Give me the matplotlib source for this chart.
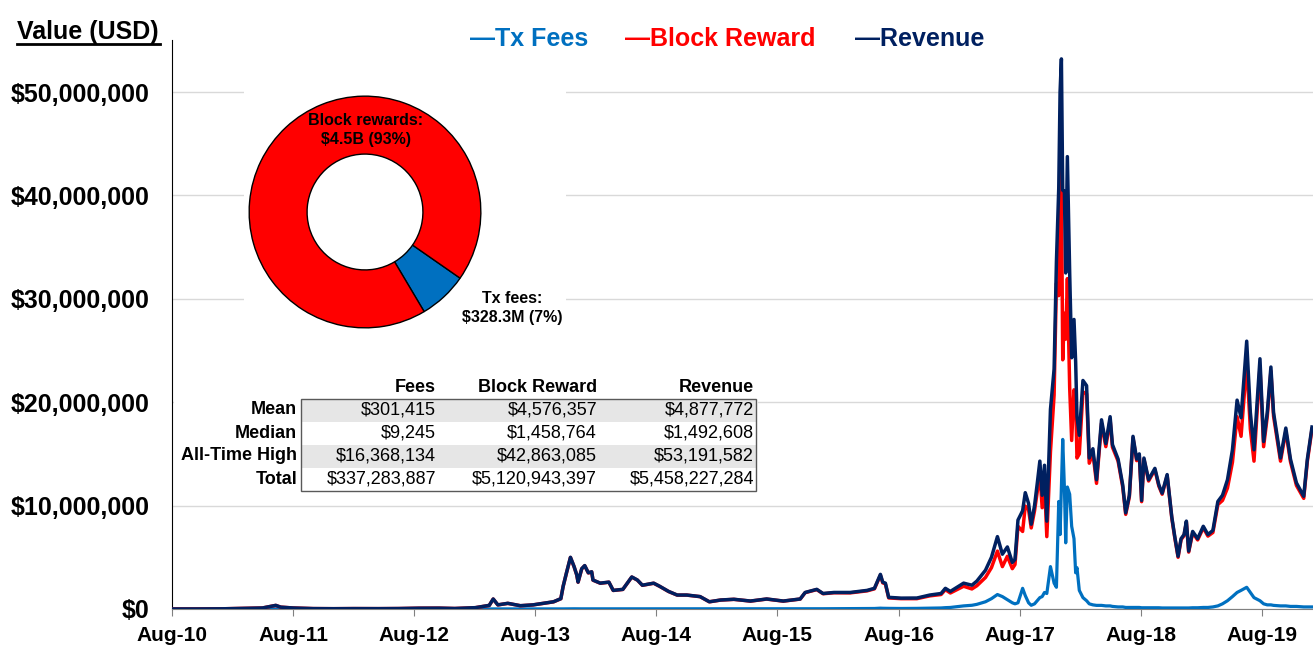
import numpy as np
import pandas as pd
import matplotlib
matplotlib.use('Agg')
import matplotlib.pyplot as plt
import matplotlib.dates as mdates
from matplotlib.ticker import FuncFormatter, MultipleLocator
from matplotlib.patches import Rectangle
from matplotlib.lines import Line2D

plt.rcParams['font.family'] = ['Liberation Sans', 'DejaVu Sans']

# Daily miner revenue (values in millions of USD)
dates = [
    '2010-08-01', '2010-10-15', '2011-01-01', '2011-03-01', '2011-05-01', '2011-06-10', '2011-06-25',
    '2011-08-01', '2011-10-01', '2011-12-01', '2012-02-01', '2012-04-15', '2012-06-15', '2012-08-15',
    '2012-10-15', '2012-12-01', '2013-02-01', '2013-03-15', '2013-03-27', '2013-04-10', '2013-05-10',
    '2013-06-17', '2013-07-25', '2013-08-26', '2013-09-25', '2013-10-17', '2013-10-24', '2013-11-03',
    '2013-11-15', '2013-11-26', '2013-12-04', '2013-12-08', '2013-12-19', '2013-12-28', '2014-01-08',
    '2014-01-18', '2014-01-22', '2014-02-13', '2014-03-11', '2014-03-24', '2014-04-22', '2014-05-19',
    '2014-06-05', '2014-06-20', '2014-07-24', '2014-08-11', '2014-09-07', '2014-10-03', '2014-11-01',
    '2014-12-11', '2015-01-08', '2015-02-11', '2015-03-23', '2015-05-12', '2015-06-30', '2015-08-19',
    '2015-10-09', '2015-10-24', '2015-11-28', '2015-12-17', '2016-01-19', '2016-03-08', '2016-04-28',
    '2016-05-20', '2016-06-07', '2016-06-14', '2016-06-22', '2016-07-02', '2016-08-08', '2016-09-25',
    '2016-11-03', '2016-12-07', '2016-12-20', '2017-01-04', '2017-02-13', '2017-03-10', '2017-03-25',
    '2017-04-20', '2017-05-08', '2017-05-26', '2017-06-10', '2017-06-25', '2017-07-10', '2017-07-18',
    '2017-07-27', '2017-08-10', '2017-08-18', '2017-08-28', '2017-09-05', '2017-09-15', '2017-09-23',
    '2017-10-01', '2017-10-08', '2017-10-15', '2017-10-22', '2017-11-02', '2017-11-13', '2017-11-20',
    '2017-11-27', '2017-12-01', '2017-12-05', '2017-12-09', '2017-12-14', '2017-12-18', '2017-12-23',
    '2017-12-30', '2018-01-05', '2018-01-12', '2018-01-17', '2018-01-21', '2018-01-28', '2018-02-08',
    '2018-02-19', '2018-02-27', '2018-03-10', '2018-03-21', '2018-04-05', '2018-04-18', '2018-05-01',
    '2018-05-08', '2018-05-25', '2018-06-08', '2018-06-17', '2018-06-28', '2018-07-09', '2018-07-20',
    '2018-07-28', '2018-08-04', '2018-08-11', '2018-08-25', '2018-09-13', '2018-09-25', '2018-10-05',
    '2018-10-20', '2018-11-03', '2018-11-12', '2018-11-22', '2018-12-01', '2018-12-10', '2018-12-17',
    '2018-12-24', '2019-01-05', '2019-01-20', '2019-02-06', '2019-02-20', '2019-03-07', '2019-03-22',
    '2019-04-05', '2019-04-20', '2019-05-05', '2019-05-19', '2019-05-31', '2019-06-17', '2019-06-28',
    '2019-07-09', '2019-07-27', '2019-08-07', '2019-08-18', '2019-08-29', '2019-09-06', '2019-09-27',
    '2019-10-13', '2019-10-27', '2019-11-14', '2019-12-06', '2019-12-17', '2019-12-31',
]

revenue = [
    0.002, 0.004, 0.02, 0.06, 0.10, 0.35, 0.18,
    0.10, 0.04, 0.03, 0.04, 0.035, 0.045, 0.08,
    0.085, 0.05, 0.13, 0.35, 0.97, 0.40, 0.55,
    0.32, 0.40, 0.55, 0.70, 1.0, 2.2, 3.5,
    5.0, 4.1, 3.3, 2.6, 3.9, 4.2, 3.5,
    3.6, 2.8, 2.5, 2.6, 1.8, 1.9, 3.1,
    2.8, 2.3, 2.5, 2.2, 1.7, 1.35, 1.35,
    1.2, 0.7, 0.87, 0.94, 0.77, 0.97, 0.77,
    0.97, 1.6, 1.9, 1.5, 1.6, 1.6, 1.8,
    2.0, 3.35, 2.6, 2.5, 1.13, 1.05, 1.06,
    1.35, 1.5, 2.0, 1.7, 2.5, 2.3, 2.7,
    3.75, 5.0, 7.0, 5.3, 6.0, 4.5, 4.8,
    8.6, 9.5, 11.25, 10.2, 8.2, 10.0, 12.1,
    14.3, 11.0, 13.9, 8.5, 19.3, 23.2, 33.6,
    40.7, 50.0, 53.2, 40.5, 40.4, 32.5, 43.75,
    32.5, 24.3, 28.0, 23.9, 18.6, 16.8, 22.1,
    21.6, 14.6, 15.5, 12.5, 18.3, 16.0, 18.6,
    15.9, 14.5, 12.0, 9.3, 11.0, 16.7, 14.5,
    15.0, 10.5, 14.6, 12.5, 13.6, 12.0, 11.2,
    13.0, 8.9, 7.0, 5.1, 6.8, 7.2, 8.5,
    5.6, 7.5, 6.8, 8.0, 7.2, 7.6, 10.4,
    11.0, 12.5, 15.4, 20.2, 18.5, 25.9, 19.0,
    15.4, 24.2, 16.2, 19.0, 23.4, 19.0, 14.6,
    17.5, 14.5, 12.2, 10.9, 14.5, 17.6,
]

tx_fees = [
    0.0, 0.0, 0.0, 0.0, 0.001, 0.002, 0.002,
    0.001, 0.001, 0.001, 0.001, 0.001, 0.002, 0.003,
    0.003, 0.003, 0.004, 0.006, 0.01, 0.008, 0.007,
    0.005, 0.005, 0.006, 0.007, 0.008, 0.01, 0.015,
    0.02, 0.02, 0.015, 0.012, 0.015, 0.015, 0.015,
    0.015, 0.012, 0.01, 0.01, 0.008, 0.008, 0.012,
    0.01, 0.01, 0.01, 0.009, 0.008, 0.007, 0.007,
    0.006, 0.005, 0.006, 0.007, 0.007, 0.012, 0.01,
    0.012, 0.02, 0.025, 0.025, 0.03, 0.04, 0.045,
    0.05, 0.08, 0.07, 0.07, 0.06, 0.05, 0.06,
    0.08, 0.1, 0.13, 0.15, 0.3, 0.36, 0.45,
    0.7, 1.0, 1.4, 1.2, 0.9, 0.6, 0.5,
    0.6, 2.0, 1.3, 0.6, 0.36, 0.5, 0.8,
    1.1, 1.2, 1.6, 1.5, 4.1, 2.5, 2.1,
    10.4, 7.2, 12.0, 16.4, 11.8, 6.4, 11.8,
    11.1, 8.0, 6.8, 3.5, 4.0, 1.8, 1.1,
    0.8, 0.5, 0.4, 0.35, 0.35, 0.3, 0.3,
    0.25, 0.2, 0.2, 0.15, 0.15, 0.15, 0.15,
    0.15, 0.12, 0.12, 0.12, 0.12, 0.12, 0.1,
    0.1, 0.1, 0.1, 0.1, 0.1, 0.1, 0.1,
    0.1, 0.12, 0.12, 0.15, 0.15, 0.2, 0.3,
    0.5, 0.8, 1.2, 1.6, 1.8, 2.1, 1.6,
    1.1, 0.8, 0.5, 0.4, 0.4, 0.35, 0.3,
    0.3, 0.25, 0.25, 0.2, 0.2, 0.2,
]

# donut: share of total miner revenue
pie_labels = ['Tx fees:\n$328.3M (7%)', 'Block rewards:\n$4.5B (93%)']
pie_values = [328.3, 4500.0]

# summary table
table_cols = ['Fees', 'Block Reward', 'Revenue']
table_rows = ['Mean', 'Median', 'All-Time High', 'Total']
table_cells = [
    ['$301,415', '$4,576,357', '$4,877,772'],
    ['$9,245', '$1,458,764', '$1,492,608'],
    ['$16,368,134', '$42,863,085', '$53,191,582'],
    ['$337,283,887', '$5,120,943,397', '$5,458,227,284'],
]

C_FEES = '#0070C0'
C_REWARD = '#FF0000'
C_REV = '#002060'

x = pd.to_datetime(dates)
rev = np.array(revenue) * 1e6
fees = np.array(tx_fees) * 1e6
reward = rev - fees  # revenue = block reward + fees

W, H = 1313, 651
fig = plt.figure(figsize=(W / 100, H / 100), dpi=100)


def fx(px):
    return px / W


def fy(py):
    return 1 - py / H


ax = fig.add_axes([fx(172), fy(609), fx(W - 172), (609 - 40.3) / H])
ax.plot(x, fees, color=C_FEES, lw=2.3, zorder=3)
ax.plot(x, reward, color=C_REWARD, lw=2.5, zorder=4)
ax.plot(x, rev, color=C_REV, lw=2.5, zorder=5)

ax.set_xlim(pd.Timestamp('2010-08-01'), pd.Timestamp('2020-01-03'))
ax.set_ylim(0, 55e6)
ax.yaxis.set_major_locator(MultipleLocator(10e6))
ax.yaxis.set_major_formatter(FuncFormatter(lambda v, p: f'${v:,.0f}'))
ax.xaxis.set_major_locator(mdates.MonthLocator(bymonth=8))
ax.xaxis.set_major_formatter(mdates.DateFormatter('%b-%y'))
ax.grid(axis='y', color='#d9d9d9', lw=1)
ax.set_axisbelow(True)
for side in ['top', 'right']:
    ax.spines[side].set_visible(False)
ax.spines['left'].set_color('black')
ax.spines['bottom'].set_color('#808080')
ax.tick_params(axis='y', length=0, pad=16, labelsize=18)
ax.tick_params(axis='x', length=5, color='#808080', pad=7, labelsize=15)
for lab in ax.get_xticklabels() + ax.get_yticklabels():
    lab.set_fontweight('bold')

# y-axis title, underlined
fig.text(fx(17), fy(32), 'Value (USD)', fontsize=18, fontweight='bold', va='center', ha='left')
fig.add_artist(Line2D([fx(17), fx(160)], [fy(44), fy(44)], color='black', lw=2))

# legend as coloured text
fig.text(fx(470), fy(39), '\u2014Tx Fees', color=C_FEES, fontsize=18, fontweight='bold', va='center')
fig.text(fx(625), fy(39), '\u2014Block Reward', color=C_REWARD, fontsize=18, fontweight='bold', va='center')
fig.text(fx(855), fy(39), '\u2014Revenue', color=C_REV, fontsize=18, fontweight='bold', va='center')

# white boxes behind the insets
fig.add_artist(Rectangle((fx(244), fy(338)), fx(322), (338 - 80) / H, transform=fig.transFigure,
                         facecolor='white', edgecolor='none', zorder=2))
fig.add_artist(Rectangle((fx(174), fy(494)), fx(584), (494 - 372) / H, transform=fig.transFigure,
                         facecolor='white', edgecolor='none', zorder=2))

# donut inset
axp = fig.add_axes([fx(248), fy(329), fx(234), 234 / H], zorder=3)
axp.pie(pie_values, colors=[C_FEES, C_REWARD], startangle=-59.3, counterclock=True,
        wedgeprops=dict(width=0.5, edgecolor='black', linewidth=1))
axp.set_xlim(-1.01, 1.01)
axp.set_ylim(-1.01, 1.01)
axp.set_aspect('equal')
fig.text(fx(366), fy(130), pie_labels[1], fontsize=11.5, fontweight='bold', ha='center', va='center',
         linespacing=1.3, zorder=5)
fig.text(fx(512), fy(308), pie_labels[0], fontsize=11.5, fontweight='bold', ha='center', va='center',
         linespacing=1.3, zorder=5)

# summary table inset
row_h = 23
top = 398.5
fig.add_artist(Rectangle((fx(301), fy(top + 1 * row_h)), fx(455), row_h / H, transform=fig.transFigure,
                         facecolor='#e6e6e6', edgecolor='none', zorder=3))
fig.add_artist(Rectangle((fx(301), fy(top + 3 * row_h)), fx(455), row_h / H, transform=fig.transFigure,
                         facecolor='#e6e6e6', edgecolor='none', zorder=3))
fig.add_artist(Rectangle((fx(301), fy(top + 4 * row_h)), fx(455), 4 * row_h / H, transform=fig.transFigure,
                         facecolor='none', edgecolor='#595959', lw=1, zorder=4))
col_right = [436, 597, 754]
for j, name in enumerate(table_cols):
    fig.text(fx(col_right[j]), fy(387), name, fontsize=13, fontweight='bold', ha='right', va='center', zorder=5)
for i, name in enumerate(table_rows):
    yc = top + (i + 0.5) * row_h
    fig.text(fx(297), fy(yc), name, fontsize=13, fontweight='bold', ha='right', va='center', zorder=5)
    for j in range(3):
        fig.text(fx(col_right[j]), fy(yc), table_cells[i][j], fontsize=13, ha='right', va='center', zorder=5)

fig.savefig('out.png', dpi=100)
